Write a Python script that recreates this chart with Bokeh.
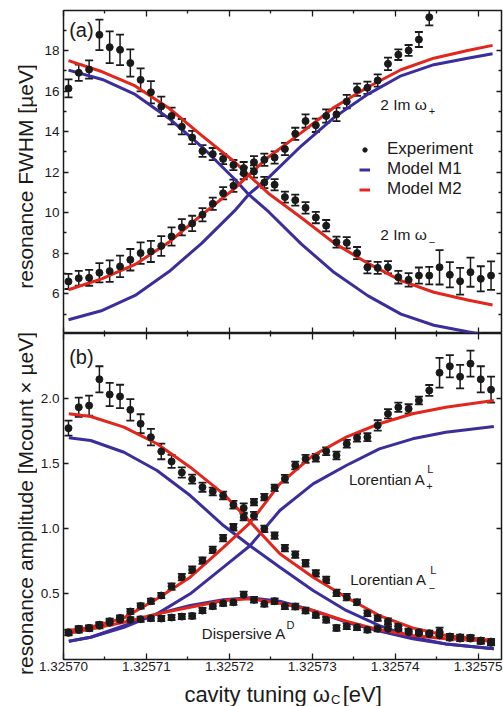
from math import pi
from bokeh.plotting import figure
from bokeh.models import (Range1d, FixedTicker, PrintfTickFormatter, LinearAxis, Label,
                          Legend, LegendItem, Whisker, ColumnDataSource, TeeHead)
from bokeh.layouts import column, row
from bokeh.embed import file_html
from bokeh.resources import INLINE

# ---------------- data ----------------
x_exp = [1.3257006, 1.32570184, 1.32570309, 1.32570433, 1.32570557, 1.32570682, 1.32570806,
         1.3257093, 1.32571054, 1.32571179, 1.32571303, 1.32571427, 1.32571552, 1.32571676,
         1.325718, 1.32571925, 1.32572049, 1.32572173, 1.32572297, 1.32572422, 1.32572546,
         1.3257267, 1.32572795, 1.32572919, 1.32573043, 1.32573168, 1.32573292, 1.32573416,
         1.3257354, 1.32573665, 1.32573789, 1.32573913, 1.32574038, 1.32574162, 1.32574286,
         1.32574411, 1.32574535, 1.32574659, 1.32574783, 1.32574908, 1.32575032, 1.32575156]

# panel (a): 2 Im omega (FWHM, ueV)
fwhm_minus = [16.13, 16.90, 17.06, 18.77, 18.16, 18.03, 17.38, 16.55, 15.94, 15.24, 14.77, 14.24,
              13.71, 13.04, 12.89, 12.65, 12.35, 12.20, 12.03, 11.49, 11.38, 10.77, 10.62, 10.24,
              9.76, 9.36, 8.55, 8.52, 8.01, 7.31, 7.28, 7.31, 6.82, 6.69, 6.90, 6.90, 7.31, 6.94,
              6.62, 7.07, 6.74, 6.90]
fwhm_minus_err = [0.44, 0.40, 0.45, 0.75, 0.78, 0.75, 0.67, 0.57, 0.55, 0.48, 0.41, 0.38, 0.33,
                  0.29, 0.30, 0.25, 0.25, 0.30, 0.30, 0.28, 0.28, 0.27, 0.27, 0.28, 0.28, 0.28,
                  0.27, 0.28, 0.30, 0.30, 0.30, 0.30, 0.31, 0.33, 0.40, 0.43, 0.85, 0.62, 0.66,
                  0.72, 0.62, 0.70]
fwhm_plus = [6.61, 6.77, 6.79, 7.04, 7.12, 7.35, 7.68, 8.01, 8.09, 8.36, 8.83, 9.28, 9.47, 9.90,
             10.44, 10.96, 11.33, 11.95, 12.49, 12.61, 12.72, 13.14, 13.89, 14.52, 14.31, 14.77,
             14.85, 15.48, 16.06, 16.16, 16.52, 17.34, 17.79, 18.00, 18.54, 19.64]
fwhm_plus_err = [0.37, 0.36, 0.39, 0.47, 0.53, 0.53, 0.53, 0.53, 0.52, 0.49, 0.45, 0.40, 0.38,
                 0.33, 0.30, 0.30, 0.30, 0.30, 0.30, 0.30, 0.30, 0.30, 0.30, 0.33, 0.33, 0.33,
                 0.33, 0.33, 0.30, 0.30, 0.30, 0.31, 0.26, 0.27, 0.37, 0.40]

# panel (b): resonance amplitudes (Mcount x ueV)
amp_minus = [1.774, 1.935, 1.948, 2.15, 2.033, 2.018, 1.915, 1.808, 1.705, 1.595, 1.518, 1.433,
             1.382, 1.32, 1.287, 1.256, 1.185, 1.16, 1.10, 1.0, 0.948, 0.851, 0.802, 0.735, 0.658,
             0.608, 0.508, 0.474, 0.435, 0.351, 0.315, 0.289, 0.248, 0.212, 0.205, 0.197, 0.21,
             0.172, 0.166, 0.162, 0.141, 0.133]
amp_minus_err = [0.058, 0.074, 0.077, 0.10, 0.09, 0.09, 0.083, 0.073, 0.064, 0.06, 0.05, 0.04,
                 0.035, 0.035, 0.03, 0.03, 0.03, 0.035, 0.03, 0.025, 0.025, 0.025, 0.025, 0.025,
                 0.025, 0.025, 0.025, 0.025, 0.022, 0.022, 0.022, 0.022, 0.022, 0.02, 0.02, 0.02,
                 0.03, 0.02, 0.02, 0.02, 0.02, 0.02]
amp_plus = [0.205, 0.231, 0.238, 0.262, 0.289, 0.315, 0.364, 0.407, 0.443, 0.487, 0.556, 0.628,
            0.685, 0.756, 0.838, 0.928, 1.012, 1.09, 1.205, 1.243, 1.315, 1.385, 1.487, 1.538,
            1.546, 1.597, 1.564, 1.654, 1.70, 1.705, 1.795, 1.885, 1.935, 1.923, 1.987, 2.064,
            2.20, 2.25, 2.17, 2.27, 2.15, 2.07]
amp_plus_err = [0.02, 0.02, 0.02, 0.02, 0.02, 0.02, 0.02, 0.02, 0.02, 0.02, 0.025, 0.025, 0.025,
                0.025, 0.025, 0.025, 0.025, 0.025, 0.025, 0.025, 0.025, 0.03, 0.03, 0.03, 0.03,
                0.03, 0.03, 0.03, 0.03, 0.03, 0.04, 0.035, 0.035, 0.035, 0.03, 0.042, 0.115, 0.085,
                0.09, 0.10, 0.10, 0.10]
amp_disp = [0.20, 0.222, 0.235, 0.255, 0.278, 0.30, 0.30, 0.305, 0.312, 0.31, 0.318, 0.325, 0.33,
            0.371, 0.405, 0.428, 0.435, 0.492, 0.454, 0.423, 0.443, 0.405, 0.402, 0.371, 0.338,
            0.30, 0.238, 0.251, 0.243, 0.223, 0.231, 0.231, 0.231, 0.205, 0.197, 0.19, 0.18,
            0.162, 0.156, 0.156, 0.136, 0.123]
amp_disp_err = [0.02, 0.02, 0.02, 0.02, 0.02, 0.02, 0.02, 0.02, 0.02, 0.02, 0.02, 0.02, 0.02,
                0.02, 0.02, 0.02, 0.02, 0.025, 0.022, 0.022, 0.022, 0.022, 0.022, 0.022, 0.022,
                0.022, 0.022, 0.022, 0.022, 0.02, 0.02, 0.02, 0.02, 0.02, 0.02, 0.02, 0.02, 0.02,
                0.02, 0.02, 0.02, 0.02]

# model curves, panel (a)
xm_a = [1.3257006, 1.32570468, 1.32570864, 1.32571273, 1.32571669, 1.32572065, 1.32572233,
        1.32572473, 1.32572869, 1.32573265, 1.32573673, 1.3257407, 1.32574466, 1.32574874,
        1.32575174]
m2_fwhm_plus = [6.2, 6.75, 7.45, 8.55, 9.9, 11.2, 11.85, 12.75, 13.95, 15.2, 16.2, 17.05, 17.62,
                18.0, 18.25]
m2_fwhm_minus = [17.5, 16.95, 16.25, 15.15, 13.8, 12.5, 11.85, 10.95, 9.75, 8.5, 7.5, 6.65, 6.08,
                 5.7, 5.45]
m1_fwhm_plus = [4.72, 5.18, 5.92, 7.1, 8.5, 10.1, 10.9, 11.73, 13.3, 14.7, 15.85, 16.75, 17.3,
                17.62, 17.84]
m1_fwhm_minus = [17.03, 16.57, 15.83, 14.65, 13.25, 11.65, 10.9, 10.05, 8.45, 7.05, 5.9, 5.0,
                 4.45, 4.13, 3.91]

# model curves, panel (b)
xm_b = [1.32570064, 1.32570328, 1.32570729, 1.32571128, 1.32571528, 1.32571929, 1.32572249,
        1.32572609, 1.3257301, 1.32573409, 1.32573809, 1.3257421, 1.3257461, 1.3257519]
m2_amp_minus = [1.885, 1.864, 1.782, 1.654, 1.474, 1.269, 1.055, 0.808, 0.628, 0.474, 0.333,
                0.238, 0.179, 0.141]
m1_amp_minus = [1.70, 1.679, 1.589, 1.448, 1.256, 1.025, 0.87, 0.705, 0.525, 0.372, 0.256,
                0.166, 0.115, 0.077]
m2_amp_plus = [0.218, 0.243, 0.315, 0.462, 0.628, 0.858, 1.045, 1.346, 1.564, 1.705, 1.808,
               1.885, 1.935, 1.987]
m1_amp_plus = [0.135, 0.166, 0.243, 0.346, 0.50, 0.705, 0.87, 1.141, 1.346, 1.487, 1.615, 1.692,
               1.743, 1.787]
m2_amp_disp = [0.197, 0.23, 0.282, 0.346, 0.397, 0.449, 0.462, 0.428, 0.372, 0.289, 0.223,
               0.179, 0.154, 0.135]
m1_amp_disp = [0.135, 0.166, 0.256, 0.346, 0.41, 0.454, 0.469, 0.443, 0.372, 0.282, 0.213,
               0.154, 0.115, 0.077]

x_major = [1.32570, 1.32571, 1.32572, 1.32573, 1.32574, 1.32575]
x_minor = [1.325705, 1.325715, 1.325725, 1.325735, 1.325745]
ya_major = [6, 8, 10, 12, 14, 16, 18]
ya_minor = [5, 7, 9, 11, 13, 15, 17, 19]
yb_major = [0.5, 1.0, 1.5, 2.0]

# ---------------- styling ----------------
BLUE = "#3b2d9c"
RED = "#e2261c"
INK = "#1a1a1a"
FONT = "Liberation Sans"
X0, X1 = 1.32570, 1.32575282
PAGE_H = 706


def X(px):
    return X0 + (px - 61) / 83.3 * 1e-5


def Ya(py):
    return 18 - (py - 50) / 20.28


def Yb(py):
    return 2 - (py - 398.3) / 130


def style_axis(ax, major_in, minor_in, ticker, show=False, fmt=None, standoff=4):
    ax.ticker = ticker
    ax.axis_line_color = None
    ax.major_tick_in = major_in
    ax.major_tick_out = 0
    ax.minor_tick_in = minor_in
    ax.minor_tick_out = 0
    ax.major_tick_line_color = INK
    ax.minor_tick_line_color = INK
    ax.major_tick_line_width = 1.3
    ax.minor_tick_line_width = 1.3
    if show:
        ax.major_label_text_font = FONT
        ax.major_label_text_font_size = "13.5px"
        ax.major_label_text_color = INK
        ax.major_label_standoff = standoff
        if fmt:
            ax.formatter = PrintfTickFormatter(format=fmt)
    else:
        ax.major_label_text_color = None
        ax.major_label_standoff = 0


def make_fig(height, yr, top, bottom):
    p = figure(width=466, height=height, x_range=Range1d(X0, X1), y_range=Range1d(*yr),
               output_backend="svg", toolbar_location=None,
               min_border_left=24, min_border_right=2, min_border_top=top,
               min_border_bottom=bottom, outline_line_color=INK, outline_line_width=1.5,
               background_fill_color="white", border_fill_color="white")
    p.grid.visible = False
    return p


def text_fig(width, height, xr, yr):
    p = figure(width=width, height=height, x_range=Range1d(*xr), y_range=Range1d(*yr),
               x_axis_type=None, y_axis_type=None, output_backend="svg",
               toolbar_location=None, min_border=0, outline_line_color=None,
               background_fill_color="white", border_fill_color="white")
    p.grid.visible = False
    return p


def add_text(p, x, y, text, size, align="left", angle=0):
    # y is the vertical middle of the text
    p.add_layout(Label(x=x, y=y, text=text, text_font=FONT, text_font_size=size,
                       text_color=INK, text_baseline="middle", text_align=align,
                       angle=angle))


def add_err(p, xs, ys, errs):
    src = ColumnDataSource(dict(x=xs, lo=[a - b for a, b in zip(ys, errs)],
                                hi=[a + b for a, b in zip(ys, errs)]))
    w = Whisker(source=src, base="x", lower="lo", upper="hi", line_color=INK, line_width=1.5,
                upper_head=TeeHead(size=8, line_color=INK, line_width=1.8),
                lower_head=TeeHead(size=8, line_color=INK, line_width=1.8))
    p.add_layout(w)
    return p.scatter(xs, ys, size=7, color=INK)


# ---------------- panel (a) ----------------
pa = make_fig(333, (4.045, 19.97), 10, 0)
style_axis(pa.xaxis[0], 6, 3, FixedTicker(ticks=x_major, minor_ticks=x_minor))
style_axis(pa.yaxis[0], 5, 3, FixedTicker(ticks=ya_major, minor_ticks=ya_minor), show=True,
           fmt="%d", standoff=4)
ax_top = LinearAxis()
style_axis(ax_top, 6, 3, FixedTicker(ticks=x_major, minor_ticks=x_minor))
pa.add_layout(ax_top, "above")
ax_r = LinearAxis()
style_axis(ax_r, 5, 3, FixedTicker(ticks=ya_major, minor_ticks=ya_minor))
pa.add_layout(ax_r, "right")

b1 = pa.line(xm_a, m1_fwhm_plus, line_color=BLUE, line_width=3)
pa.line(xm_a, m1_fwhm_minus, line_color=BLUE, line_width=3)
r1 = pa.line(xm_a, m2_fwhm_plus, line_color=RED, line_width=3)
pa.line(xm_a, m2_fwhm_minus, line_color=RED, line_width=3)
dots = add_err(pa, x_exp, fwhm_minus, fwhm_minus_err)
add_err(pa, x_exp[:len(fwhm_plus)], fwhm_plus, fwhm_plus_err)

legend = Legend(items=[LegendItem(label="Experiment", renderers=[dots]),
                       LegendItem(label="Model M1", renderers=[b1]),
                       LegendItem(label="Model M2", renderers=[r1])],
                location=(296, 134), background_fill_alpha=0, border_line_color=None,
                padding=0, margin=0, spacing=0, glyph_width=11, glyph_height=19,
                label_height=19, label_standoff=17, label_text_font=FONT,
                label_text_font_size="17px", label_text_color=INK)
pa.add_layout(legend)

add_text(pa, X(66.7), Ya(30), "(a)", "20px")
add_text(pa, X(379.3), Ya(103.8), "2 Im ω", "15.5px")
add_text(pa, X(428), Ya(111), "+", "11px")
add_text(pa, X(379.3), Ya(233.8), "2 Im ω", "15.5px")
add_text(pa, X(428), Ya(241.5), "−", "11px")

# ---------------- panel (b) ----------------
pb = make_fig(344, (-0.005, 2.502), 0, 18)
style_axis(pb.xaxis[0], 6, 3, FixedTicker(ticks=x_major, minor_ticks=x_minor), show=True,
           fmt="%.5f", standoff=2)
style_axis(pb.yaxis[0], 5, 3, FixedTicker(ticks=yb_major, minor_ticks=[]), show=True,
           fmt="%.1f", standoff=4)
ax_top_b = LinearAxis()
style_axis(ax_top_b, 6, 3, FixedTicker(ticks=x_major, minor_ticks=x_minor))
pb.add_layout(ax_top_b, "above")
ax_rb = LinearAxis()
style_axis(ax_rb, 5, 3, FixedTicker(ticks=yb_major, minor_ticks=[]))
pb.add_layout(ax_rb, "right")

for ys in (m1_amp_minus, m1_amp_plus, m1_amp_disp):
    pb.line(xm_b, ys, line_color=BLUE, line_width=3)
for ys in (m2_amp_minus, m2_amp_plus, m2_amp_disp):
    pb.line(xm_b, ys, line_color=RED, line_width=3)
add_err(pb, x_exp, amp_disp, amp_disp_err)
add_err(pb, x_exp, amp_plus, amp_plus_err)
add_err(pb, x_exp, amp_minus, amp_minus_err)

add_text(pb, X(66.7), Yb(356.5), "(b)", "20px")
add_text(pb, X(347.7), Yb(479), "Lorentian A", "15px")
add_text(pb, X(426.5), Yb(469), "L", "11px")
add_text(pb, X(425.5), Yb(485), "+", "11px")
add_text(pb, X(349), Yb(579), "Lorentian A", "15px")
add_text(pb, X(429.5), Yb(569.5), "L", "11px")
add_text(pb, X(428), Yb(587), "−", "11px")
add_text(pb, X(200), Yb(633), "Dispersive A", "15px")
add_text(pb, X(285), Yb(624), "D", "11px")

# ---------------- axis titles (own strips; y measured up from page bottom) ----------------
left = text_fig(37, PAGE_H, (0, 37), (0, PAGE_H))
add_text(left, 24.5, PAGE_H - 176, "resonance FWHM [µeV]", "21px", align="center",
         angle=pi / 2)
add_text(left, 24.5, PAGE_H - 503, "resonance amplitude [Mcount × µeV]", "21px",
         align="center", angle=pi / 2)

bottom = text_fig(466, 29, (37, 503), (0, 29))
add_text(bottom, 320.5, PAGE_H - 693.5, "cavity tuning ω", "22px", align="right")
add_text(bottom, 321.5, PAGE_H - 699, "C", "13px")
add_text(bottom, 334, PAGE_H - 693.5, "[eV]", "22px")

layout = row(left, column(pa, pb, bottom, spacing=0), spacing=0)
open("out.html", "w").write(file_html(layout, INLINE))
